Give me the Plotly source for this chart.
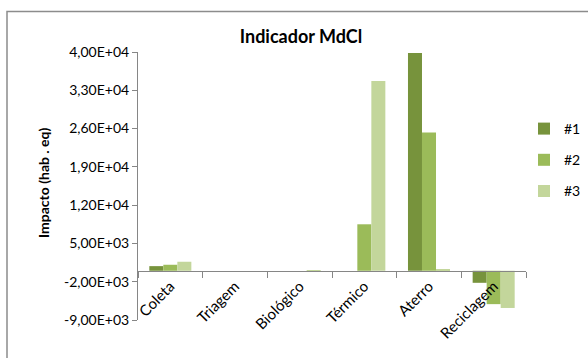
import plotly.graph_objects as go

# Categories and series values
categories = ["Coleta", "Triagem", "Biológico", "Térmico", "Aterro", "Reciclagem"]
series_names = ["#1", "#2", "#3"]
values_1 = [850, 0, 0, 0, 39800, -2200]
values_2 = [1100, 0, 0, 8500, 25300, -6100]
values_3 = [1650, 0, -150, 34700, 150, -6800]
series_colors = ["#77933C", "#9BBB59", "#C3D69B"]

# Y axis tick values and their comma-decimal labels
y_tick_values = [-9000, -2000, 5000, 12000, 19000, 26000, 33000, 40000]
y_tick_labels = ["-9,00E+03", "-2,00E+03", "5,00E+03", "1,20E+04",
                 "1,90E+04", "2,60E+04", "3,30E+04", "4,00E+04"]

FONT = "Lato"
AXIS_GRAY = "#868686"

fig = go.Figure()
for i, (name, vals, col) in enumerate(zip(series_names, [values_1, values_2, values_3], series_colors)):
    fig.add_trace(go.Bar(
        x=categories, y=vals, name=name,
        marker=dict(color=col, line=dict(width=0)),
        legendgroup=f"g{i}",
    ))

y_min, y_max = -9000, 40000
zero_pos = (0 - y_min) / (y_max - y_min)

fig.update_layout(
    width=588, height=358,
    margin=dict(l=138, r=62, t=52, b=38, autoexpand=False),
    paper_bgcolor="white", plot_bgcolor="white",
    barmode="group", bargap=0.35, bargroupgap=0,
    font=dict(family=FONT, size=13, color="#000000"),
    title=dict(text="<b>Indicador MdCl</b>", x=301 / 588, xanchor="center",
               y=1 - 37 / 358, yanchor="middle",
               font=dict(family=FONT, size=18, color="#000000")),
    showlegend=True,
    legend=dict(x=(524 - 138) / 388, xanchor="left", y=(320 - 113) / 268, yanchor="top",
                tracegroupgap=10, font=dict(family=FONT, size=14),
                bgcolor="rgba(0,0,0,0)"),
    xaxis=dict(
        type="category", anchor="free", position=zero_pos,
        showline=True, linecolor=AXIS_GRAY, linewidth=1,
        ticks="outside", tickson="boundaries", ticklen=6, tickcolor=AXIS_GRAY,
        tickangle=-45, ticklabelstandoff=0,
        showgrid=False, zeroline=False,
        tickfont=dict(family=FONT, size=15),
    ),
    yaxis=dict(
        range=[y_min, y_max], tickvals=y_tick_values, ticktext=y_tick_labels,
        showline=True, linecolor=AXIS_GRAY, linewidth=1,
        ticks="outside", ticklen=5, tickcolor=AXIS_GRAY,
        showgrid=False, zeroline=False,
        tickfont=dict(family=FONT, size=14),
    ),
    annotations=[dict(
        text="<b>Impacto (hab . eq)</b>", textangle=-90,
        xref="paper", yref="paper", x=(43 - 138) / 388, y=(320 - 183) / 268,
        xanchor="center", yanchor="middle", showarrow=False,
        font=dict(family=FONT, size=14, color="#000000"),
    )],
    shapes=[dict(
        type="rect", xref="paper", yref="paper",
        x0=(7 - 138) / 388, x1=(620 - 138) / 388,
        y0=(320 - 380) / 268, y1=(320 - 11.5) / 268,
        line=dict(color="#8C8C8C", width=1.5), fillcolor="rgba(0,0,0,0)",
        layer="below",
    )],
)

fig.write_html("out.html")
